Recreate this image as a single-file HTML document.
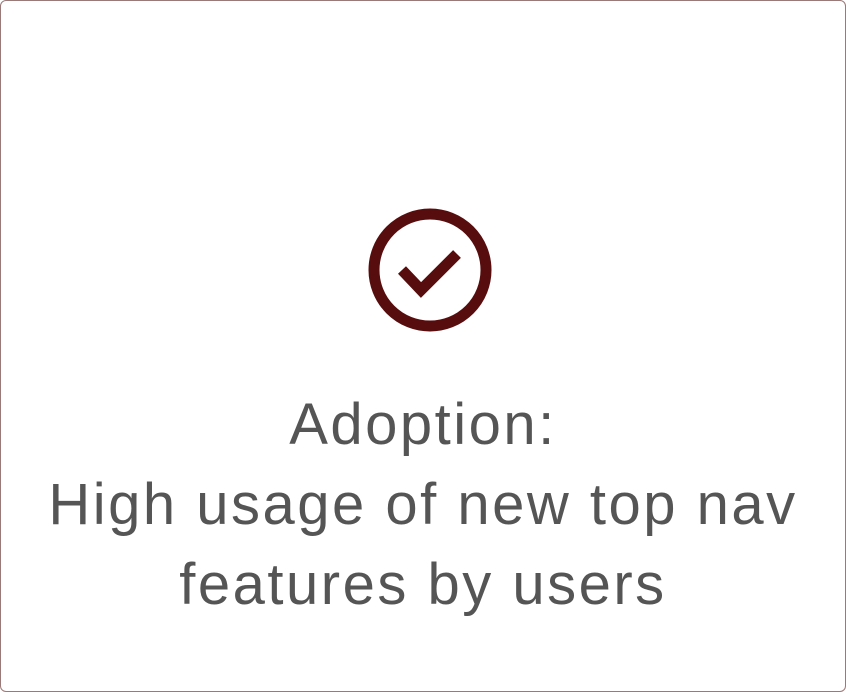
<!DOCTYPE html>
<html><head><style>
html,body{margin:0;padding:0;background:#fff;}
.box{position:absolute;left:0;top:0;width:844px;height:690px;border:1px solid #9a7a78;border-radius:6px;background:#fff;}
.t{position:absolute;left:0;width:846px;text-align:center;font-family:"Liberation Sans",sans-serif;font-size:58px;color:#555;letter-spacing:2.5px;line-height:80px;top:385px;}
</style></head><body>
<div class="box"></div>
<svg style="position:absolute;left:0;top:0" width="846" height="692">
<circle cx="430" cy="270" r="56" fill="none" stroke="#570d0d" stroke-width="11"/>
<polyline points="402,270 421,290 457,254" fill="none" stroke="#570d0d" stroke-width="11"/>
</svg>
<div class="t">Adoption:<br>High usage of new top nav<br>features by users</div>
</body></html>
